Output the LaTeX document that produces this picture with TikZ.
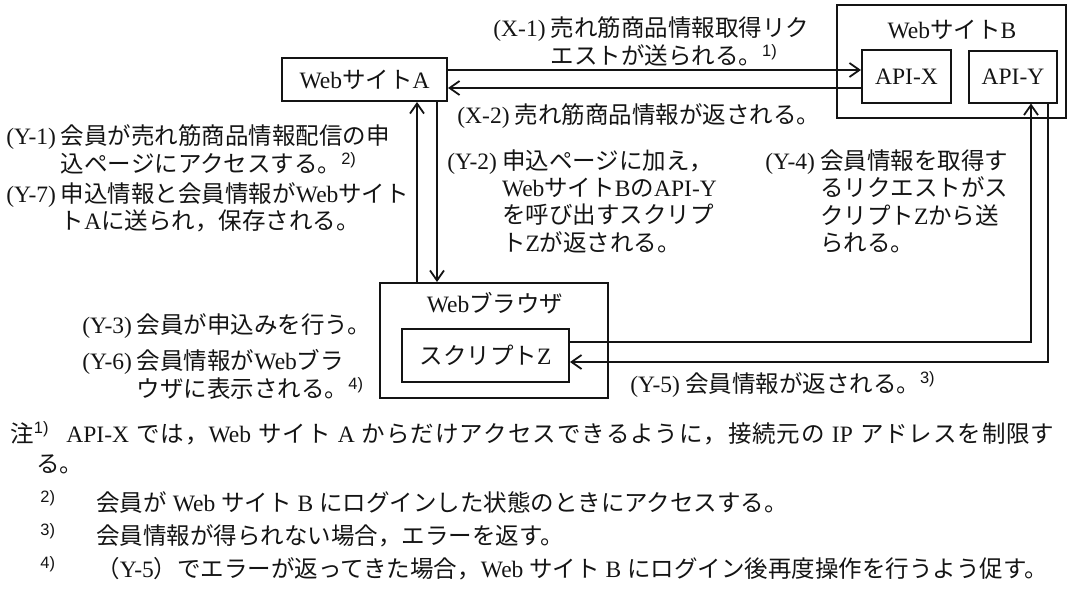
\documentclass[tikz,border=0pt]{standalone}
\usepackage{fontspec}
\usepackage{xcolor}
\setmainfont{Liberation Serif}
\setsansfont{Liberation Sans}
\newfontfamily\jpfont{Noto Sans CJK JP}
\usetikzlibrary{arrows.meta,positioning,calc}
\definecolor{inkblack}{HTML}{141414}

% Japanese runs switch to the CJK font by themselves
\XeTeXinterchartokenstate=1
\newXeTeXintercharclass\jpclass
\newcount\jpcode
\newcommand{\setjprange}[2]{%
  \jpcode=#1\relax
  \loop
    \XeTeXcharclass\jpcode=\jpclass
    \ifnum\jpcode<#2\relax
    \advance\jpcode by 1
  \repeat}
\setjprange{"3000}{"30FF}
\setjprange{"4E00}{"9FFF}
\setjprange{"FF00}{"FFEF}
\XeTeXinterchartoks 0 \jpclass = {\jpfont}
\XeTeXinterchartoks 4095 \jpclass = {\jpfont}
\XeTeXinterchartoks \jpclass 0 = {\rmfamily}
\XeTeXinterchartoks \jpclass 4095 = {\rmfamily}

\newcommand{\figfont}{\fontsize{11.75pt}{13.5pt}\selectfont}
\newcommand{\fnref}[1]{\textsuperscript{\sffamily #1}}
\newcommand{\steplabel}[2]{\begin{tabular}[t]{@{}l@{\hspace{2.5pt}}l@{}}#1 & #2\end{tabular}}
\newcommand{\jpspread}[2]{{\XeTeXinterchartoks\jpclass\jpclass={\hskip0pt plus 1pt}\makebox[#1][s]{#2}}}

\tikzset{
  box/.style={draw=inkblack,line width=1pt,inner sep=0pt,font=\figfont,text=inkblack},
  boxtitle/.style={inner sep=0pt,font=\figfont,text=inkblack},
  flow/.style={-{Straight Barb[length=5pt,width=7pt]},line width=0.9pt,draw=inkblack},
  steptext/.style={anchor=base west,inner sep=0pt,font=\figfont,text=inkblack},
  notetext/.style={anchor=base west,inner sep=0pt,font=\figfont,text=inkblack}
}

\begin{document}
\begin{tikzpicture}[x=0.5pt,y=-0.5pt]
  \useasboundingbox (0,0) rectangle (1074,600);

  \node[box,minimum width=82.5pt,minimum height=21.5pt] (sitea) at (364.5,79.5) {WebサイトA};
  \node[box,minimum width=114.5pt,minimum height=56.5pt] (siteb) at (951.5,61.5) {};
  \node[boxtitle] (sitebtitle) at (952,30) {WebサイトB};
  \node[box,minimum width=44.5pt,minimum height=26.5pt] (apix) at (906.5,76.5) {API-X};
  \node[box,minimum width=44pt,minimum height=26pt,right=8pt of apix] (apiy) {API-Y};

  \node[box,minimum width=114pt,minimum height=57.5pt] (browser) at (494,340.5) {};
  \node[boxtitle] (browsertitle) at (495,303) {Webブラウザ};
  \node[box,minimum width=83.5pt,minimum height=26.5pt] (script) at (485.5,355.5) {スクリプトZ};

  \coordinate (xreq) at (0,70);
  \coordinate (xres) at (0,88);
  \coordinate (yup) at (417,0);
  \coordinate (ydown) at (437,0);
  \coordinate (yreq) at (1031,342);
  \coordinate (yres) at (1048,362);
  \draw[flow] (sitea.east |- xreq) -- (apix.west |- xreq);
  \draw[flow] (apix.west |- xres) -- (sitea.east |- xres);
  \draw[flow] (browser.north -| yup) -- (sitea.south -| yup);
  \draw[flow] (sitea.south -| ydown) -- (browser.north -| ydown);
  \draw[flow] (script.east |- yreq) -- (yreq) -- (apiy.south -| yreq);
  \draw[flow] (apiy.south -| yres) -- (yres) -- (script.east |- yres);

  \node[steptext] (lblx1) at (493,36) {\steplabel{(X-1)}{売れ筋商品情報取得リク\\ & エストが送られる。\fnref{1)}}};
  \node[steptext] (lblx2) at (457,123) {\steplabel{(X-2)}{売れ筋商品情報が返される。}};
  \node[steptext] (lbly1) at (6,144) {\steplabel{(Y-1)}{会員が売れ筋商品情報配信の申\\ & 込ページにアクセスする。\fnref{2)}}};
  \node[steptext] (lbly7) at (6,202) {\steplabel{(Y-7)}{申込情報と会員情報がWebサイト\\ & トAに送られ，保存される。}};
  \node[steptext] (lbly2) at (447,169) {\steplabel{(Y-2)}{申込ページに加え，\\ & WebサイトBのAPI-Y\\ & を呼び出すスクリプ\\ & トZが返される。}};
  \node[steptext] (lbly4) at (765,169) {\steplabel{(Y-4)}{会員情報を取得す\\ & るリクエストがス\\ & クリプトZから送\\ & られる。}};
  \node[steptext] (lbly3) at (82,333) {\steplabel{(Y-3)}{会員が申込みを行う。}};
  \node[steptext] (lbly6) at (82,369) {\steplabel{(Y-6)}{会員情報がWebブラ\\ & ウザに表示される。\fnref{4)}}};
  \node[steptext] (lbly5) at (630,392) {\steplabel{(Y-5)}{会員情報が返される。\fnref{3)}}};

  \node[notetext] (note1) at (10,442) {\makebox[28pt][l]{注\fnref{1)}}\jpspread{494pt}{API-X では，Web サイト A からだけアクセスできるように，接続元の IP アドレスを制限す}};
  \node[notetext] (note1b) at (36,472) {る。};
  \node[notetext] (note2) at (40,511) {\makebox[28pt][l]{\fnref{2)}}会員が Web サイト B にログインした状態のときにアクセスする。};
  \node[notetext] (note3) at (40,544) {\makebox[28pt][l]{\fnref{3)}}会員情報が得られない場合，エラーを返す。};
  \node[notetext] (note4) at (40,577) {\makebox[28pt][l]{\fnref{4)}}（Y-5）でエラーが返ってきた場合，Web サイト B にログイン後再度操作を行うよう促す。};
\end{tikzpicture}
\end{document}
